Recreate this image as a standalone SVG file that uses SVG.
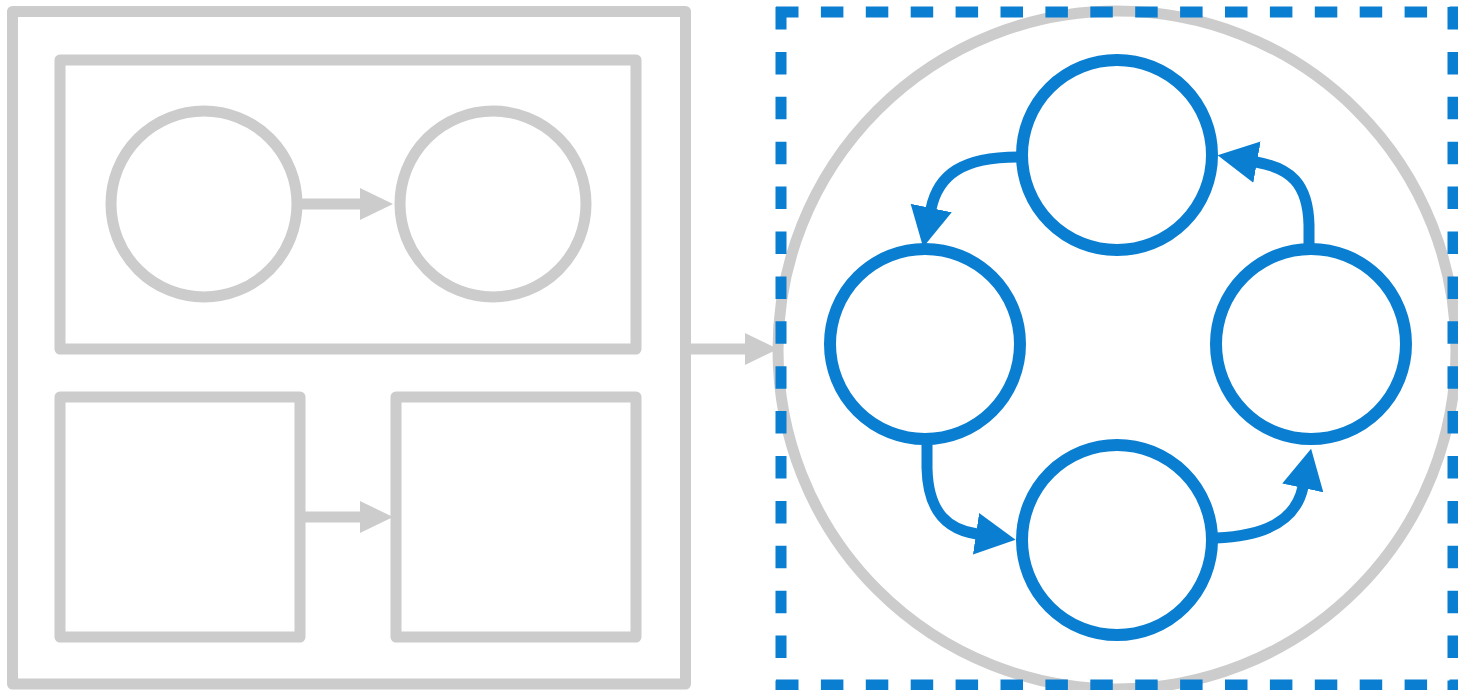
<svg xmlns="http://www.w3.org/2000/svg" width="1458" height="690" viewBox="0 0 1458 690">
  <style>
    .g { fill: #ffffff; stroke: #cccccc; stroke-width: 11; stroke-linejoin: round; }
    .b { fill: #ffffff; stroke: #0a7fd2; stroke-width: 12; }
    .gl { fill: none; stroke: #cccccc; stroke-width: 11; }
    .bl { fill: none; stroke: #0a7fd2; stroke-width: 11; }
    .dash { fill: none; stroke: #0a7fd2; stroke-width: 11; stroke-dasharray: 22.5 22.4; }
  </style>
  <defs>
    <marker id="ga" markerUnits="userSpaceOnUse" markerWidth="34" markerHeight="34" viewBox="0 0 34 34" refX="1" refY="17" orient="auto">
      <path d="M0,1 L33,17 L0,33 Z" fill="#cccccc"/>
    </marker>
    <marker id="ba" markerUnits="userSpaceOnUse" markerWidth="42" markerHeight="42" viewBox="0 0 42 42" refX="1" refY="21" orient="auto">
      <path d="M0,0 L40,21 L0,42 Z" fill="#0a7fd2"/>
    </marker>
  </defs>

  <g id="outer-frame">
    <rect class="g" x="12.5" y="11.5" width="673" height="672.5"/>
  </g>
  <g id="top-panel">
    <rect class="g" x="60" y="60" width="576" height="289"/>
  </g>
  <g id="top-circle-left">
    <circle class="g" cx="204" cy="204" r="93"/>
  </g>
  <g id="top-circle-right">
    <circle class="g" cx="493" cy="204" r="93"/>
  </g>
  <g id="bottom-square-left">
    <rect class="g" x="60" y="397" width="240" height="240"/>
  </g>
  <g id="bottom-square-right">
    <rect class="g" x="396" y="397" width="240" height="240"/>
  </g>

  <g id="ring">
    <circle class="g" cx="1117" cy="350" r="339"/>
  </g>
  <g id="dashed-frame">
    <line class="dash" x1="776" y1="12" x2="1458" y2="12"/>
    <line class="dash" x1="1453" y1="7" x2="1453" y2="690"/>
    <line class="dash" x1="781" y1="7" x2="781" y2="690"/>
    <line class="dash" x1="776" y1="685" x2="1458" y2="685"/>
  </g>
  <g id="node-top">
    <circle class="b" cx="1117" cy="155" r="95"/>
  </g>
  <g id="node-left">
    <circle class="b" cx="925" cy="344" r="95"/>
  </g>
  <g id="node-right">
    <circle class="b" cx="1311" cy="344" r="95"/>
  </g>
  <g id="node-bottom">
    <circle class="b" cx="1117" cy="540" r="95"/>
  </g>

  <g id="connectors">
    <path class="gl" d="M298 204 L361 204" marker-end="url(#ga)"/>
    <path class="gl" d="M300 517 L361 517" marker-end="url(#ga)"/>
    <path class="gl" d="M686 349 L746 349" marker-end="url(#ga)"/>
    <path class="bl" d="M1018 157 C 962 157, 938 175, 931 209" marker-end="url(#ba)"/>
    <path class="bl" d="M927 443 L927 468 C 928 515, 950 530, 977 534" marker-end="url(#ba)"/>
    <path class="bl" d="M1216 538 C 1267 536, 1296 520, 1303 487" marker-end="url(#ba)"/>
    <path class="bl" d="M1309 247 L1309 225 C 1308 183, 1290 168, 1256 162" marker-end="url(#ba)"/>
  </g>
</svg>
